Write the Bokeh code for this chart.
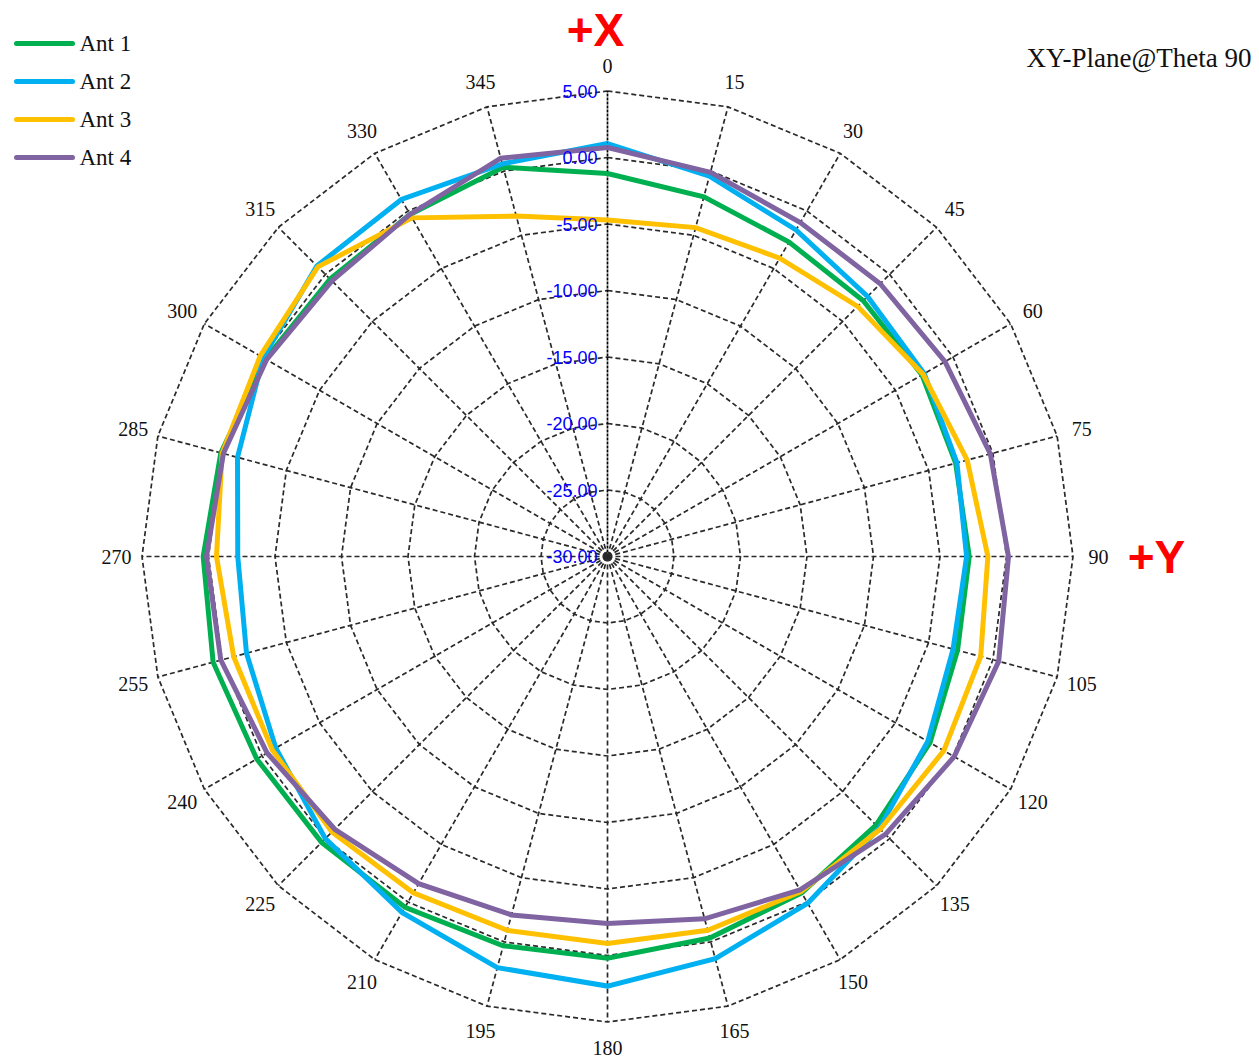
import numpy as np
from bokeh.plotting import figure
from bokeh.models import Range1d
from bokeh.core.properties import value
from bokeh.embed import file_html
from bokeh.resources import INLINE

# ---------------- data ----------------
angles = list(range(0, 360, 15))
angle_labels = [str(a) for a in angles]
ring_values = [5, 0, -5, -10, -15, -20, -25, -30]
ring_labels = ["5.00", "0.00", "-5.00", "-10.00", "-15.00", "-20.00", "-25.00", "-30.00"]
series_names = ["Ant 1", "Ant 2", "Ant 3", "Ant 4"]
series_colors = ["#00B050", "#00B0F0", "#FFC000", "#8064A2"]

ant1 = [-1.2, -2.0, -2.7, -2.8, -2.7, -2.9, -2.8, -2.75, -2.0, -1.45, -0.8, -0.3,
        0.2, 0.3, 0.45, 0.4, 0.45, 0.7, 0.4, 0.1, -0.3, -0.5, -0.3, 0.3]
ant2 = [1.05, -0.4, -1.65, -2.35, -2.5, -2.8, -3.0, -3.1, -2.2, -1.1, 0.1, 1.3,
        2.3, 2.0, 0.9, 0.0, -1.2, -1.9, -2.2, -1.2, -0.1, 0.9, 1.0, 0.56]
ant3 = [-4.7, -4.4, -4.1, -3.4, -2.6, -2.0, -1.4, -0.95, -0.8, -1.0, -0.9, -0.9,
        -0.9, -0.9, -0.8, -0.7, -0.9, -0.9, -0.6, 0.0, 0.15, 0.8, -0.6, -3.5]
ant4 = [0.75, -0.1, -1.0, -1.0, -0.7, -0.2, 0.15, 0.45, 0.1, -0.45, -1.05, -1.8,
        -2.4, -2.1, -1.6, -1.0, -0.45, 0.1, 0.15, -0.1, -0.4, -0.7, -0.3, 1.0]
series = [ant1, ant2, ant3, ant4]

r_min, r_max = -30.0, 5.0

# ---------------- layout ----------------
W, H = 1259, 1058
K = 13.3              # px per dB
CX, CY = 607, 556     # center in figure px


def px2d(px, py):
    return (px - CX) / K, (CY - py) / K


def polar(vals, angs):
    th = np.radians(np.asarray(angs, dtype=float))
    r = np.asarray(vals, dtype=float) - r_min
    return r * np.sin(th), r * np.cos(th)


p = figure(width=W, height=H, output_backend="svg", toolbar_location=None,
           x_range=Range1d(-CX / K, (W - CX) / K),
           y_range=Range1d(-(H - CY) / K, CY / K),
           min_border=0)
p.axis.visible = False
p.grid.visible = False
p.outline_line_color = None
p.background_fill_color = "white"
p.border_fill_color = "white"

# grid rings
grid_color = "#2a2a2a"
for rv in ring_values[:-1]:
    xs, ys = polar([rv] * (len(angles) + 1), angles + [angles[0]])
    p.line(xs, ys, line_color=grid_color, line_width=1.7, line_dash="5 3")

# spokes
for a in angles:
    xs, ys = polar([r_min, r_max], [a, a])
    p.line(xs, ys, line_color=grid_color if a != 0 else "black",
           line_width=1.7, line_dash="5 3" if a != 0 else "3 1")

# series
for vals, col in zip(series, series_colors):
    xs, ys = polar(vals + [vals[0]], angles + [angles[0]])
    p.line(xs, ys, line_color=col, line_width=5, line_join="miter")

# ring labels (blue, along 0 degree spoke)
lx = -10 / K
p.text(x=[lx] * len(ring_values), y=[v - r_min for v in ring_values], text=ring_labels,
       text_font=value("Liberation Sans"), text_font_size="18px", text_color="#0000FF",
       text_align="right", text_baseline="middle")

# angle labels
lr = 491 / K
th = np.radians(angles)
p.text(x=list(lr * np.sin(th)), y=list(lr * np.cos(th)), text=angle_labels,
       text_font=value("Liberation Serif"), text_font_size="20px", text_color="#111111",
       text_align="center", text_baseline="middle")

# legend
for i, (name, col) in enumerate(zip(series_names, series_colors)):
    py = 43 + 38 * i
    x0, y0 = px2d(16, py)
    x1, _ = px2d(72, py)
    p.line([x0, x1], [y0, y0], line_color=col, line_width=5, line_cap="round")
    tx, ty = px2d(79, py)
    p.text(x=[tx], y=[ty], text=[name], text_font=value("Liberation Serif"),
           text_font_size="23px", text_color="#111111", text_baseline="middle")

# title
tx, ty = px2d(1251, 57)
p.text(x=[tx], y=[ty], text=["XY-Plane@Theta 90"], text_font=value("Liberation Serif"),
       text_font_size="27px", text_color="#111111", text_align="right", text_baseline="middle")

# +X / +Y markers
tx, ty = px2d(595, 29)
p.text(x=[tx], y=[ty], text=["+X"], text_font=value("Liberation Sans"), text_font_size="46px",
       text_font_style="bold", text_color="#FF0000", text_align="center", text_baseline="middle")
tx, ty = px2d(1156, 556)
p.text(x=[tx], y=[ty], text=["+Y"], text_font=value("Liberation Sans"), text_font_size="46px",
       text_font_style="bold", text_color="#FF0000", text_align="center", text_baseline="middle")

open("out.html", "w").write(file_html(p, INLINE))
